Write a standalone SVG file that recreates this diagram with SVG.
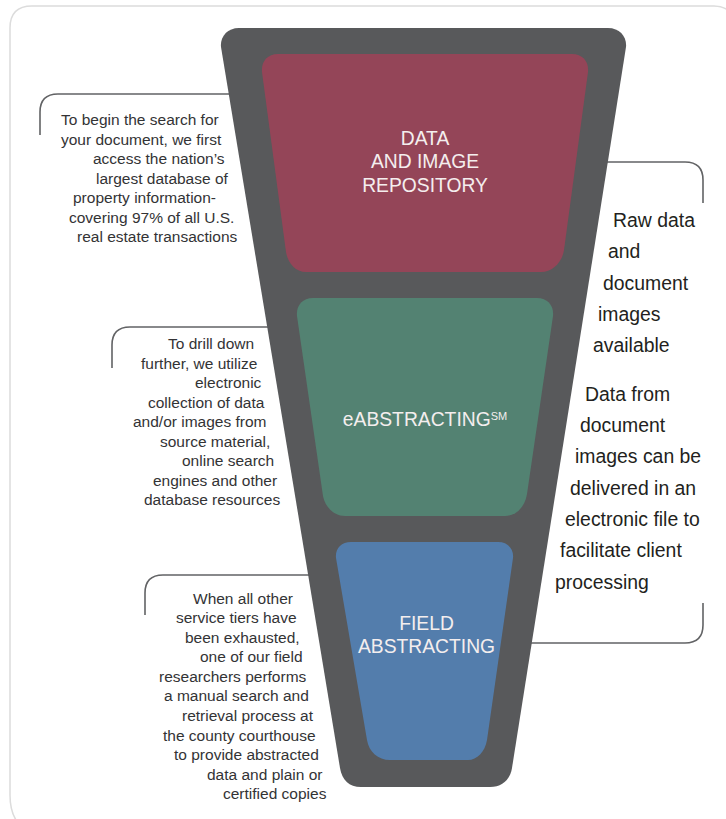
<svg xmlns="http://www.w3.org/2000/svg" width="726" height="819" viewBox="0 0 726 819">
<style>
text{font-family:"Liberation Sans",Arial,sans-serif}
.s{font-size:15.500px;fill:#333335}
.r{font-size:19.400px;fill:#231f20}
.w{font-size:19.300px;fill:#f4eeee;text-anchor:middle}
.c{fill:none;stroke:#626365;stroke-width:1.6}
</style>
<rect width="726" height="819" fill="#fff"/>
<path id="frame" d="M20 825Q10 815 10 795V28Q10 6 32 6H714Q724 6 730 12" fill="none" stroke="#dcdcdc" stroke-width="1.5"/>
<g id="connectors">
<path class="c" d="M40 135V112Q40 94 58 94H232"/>
<path class="c" d="M703 203V180Q703 162 685 162H604"/>
<path class="c" d="M112 368V345Q112 327 130 327H270"/>
<path class="c" d="M703 603V625Q703 643 685 643H530"/>
<path class="c" d="M145 615V593Q145 575 163 575H310"/>
</g>
<g id="funnel"><path d="M239 28H608C620 28 627 37 626 47L512 768C510 780 502 787 490 787H361C349 787 342 780 340 768L221 47C220 37 227 28 239 28Z" fill="#58595b"/></g>
<g id="data"><path d="M278 54H572C583 54 589 62 588 72L564 250C562 263 552 272 541 272H306C295 272 288 263 286 252L262 72C261 62 267 54 278 54Z" fill="#944558"/>
<text class="w" x="425" y="145">DATA</text><text class="w" x="425" y="168">AND IMAGE</text><text class="w" x="425" y="191.500">REPOSITORY</text></g>
<g id="eabstracting"><path d="M313 298H537C548 298 554 306 553 316L527 494C525 507 516 516 505 516H345C334 516 325 507 323 496L297 316C296 306 302 298 313 298Z" fill="#538272"/>
<text class="w" x="425" y="426">eABSTRACTING<tspan dy="-6" style="font-size:11px">SM</tspan></text></g>
<g id="field"><path d="M351 542H498C508 542 514 549 513 558L487 740C485 752 477 760 468 760H390C378 760 369 752 367 740L336 558C335 549 341 542 351 542Z" fill="#537dac"/>
<text class="w" x="426.500" y="630">FIELD</text><text class="w" x="426.500" y="653">ABSTRACTING</text></g>
<g id="note1"><text class="s" x="61" y="125">To begin the search for</text><text class="s" x="61" y="145">your document, we first</text><text class="s" x="93" y="164">access the nation’s</text><text class="s" x="96" y="184">largest database of</text><text class="s" x="73" y="203">property information-</text><text class="s" x="69" y="223">covering 97% of all U.S.</text><text class="s" x="77" y="242">real estate transactions</text></g>
<g id="note2"><text class="s" x="168" y="349">To drill down</text><text class="s" x="141" y="369">further, we utilize</text><text class="s" x="195" y="388">electronic</text><text class="s" x="148" y="408">collection of data</text><text class="s" x="133" y="427">and/or images from</text><text class="s" x="160" y="447">source material,</text><text class="s" x="182" y="466">online search</text><text class="s" x="153" y="486">engines and other</text><text class="s" x="144" y="505">database resources</text></g>
<g id="note3"><text class="s" x="193" y="604">When all other</text><text class="s" x="176" y="623">service tiers have</text><text class="s" x="185" y="643">been exhausted,</text><text class="s" x="200" y="662">one of our field</text><text class="s" x="159" y="682">researchers performs</text><text class="s" x="164" y="701">a manual search and</text><text class="s" x="182" y="721">retrieval process at</text><text class="s" x="163" y="741">the county courthouse</text><text class="s" x="174" y="760">to provide abstracted</text><text class="s" x="207" y="780">data and plain or</text><text class="s" x="223" y="799">certified copies</text></g>
<g id="note4"><text class="r" x="613" y="227">Raw data</text><text class="r" x="608" y="258">and</text><text class="r" x="603" y="290">document</text><text class="r" x="598" y="321">images</text><text class="r" x="593" y="352">available</text><text class="r" x="585" y="401">Data from</text><text class="r" x="580" y="432">document</text><text class="r" x="575" y="463">images can be</text><text class="r" x="570" y="495">delivered in an</text><text class="r" x="565" y="526">electronic file to</text><text class="r" x="560" y="557">facilitate client</text><text class="r" x="555" y="589">processing</text></g>
</svg>
